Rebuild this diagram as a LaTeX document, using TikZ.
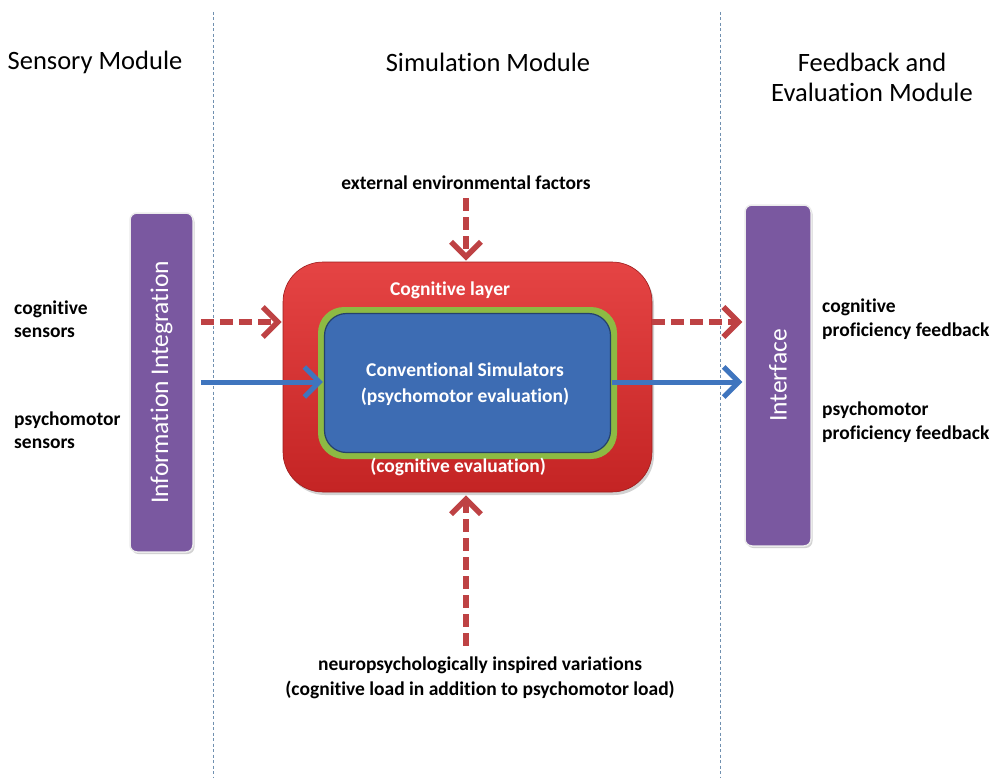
\documentclass[tikz,border=0pt]{standalone}
\usepackage{fontspec}
\setmainfont{Carlito}[Ligatures={CommonOff}]
\usetikzlibrary{arrows.meta,shadows,calc}
\definecolor{purp}{HTML}{7A58A0}
\definecolor{redarrow}{HTML}{BE4244}
\definecolor{bluearrow}{HTML}{3F75BE}
\definecolor{redtop}{HTML}{E54444}
\definecolor{redbot}{HTML}{C42424}
\definecolor{grn}{HTML}{8DBA43}
\definecolor{blu}{HTML}{3D6CB3}
\definecolor{divider}{HTML}{7090B0}
\tikzset{
  heading/.style={font=\fontsize{26.5}{30}\selectfont, align=center, inner sep=0pt},
  lbl/.style={font=\bfseries\fontsize{19.5}{23.5}\selectfont, align=left, inner sep=0pt},
  clbl/.style={font=\bfseries\fontsize{19.5}{25}\selectfont, align=center, inner sep=0pt},
  wlbl/.style={font=\bfseries\fontsize{19.5}{26}\selectfont, align=center, inner sep=0pt, text=white},
  pillar/.style={fill=purp, draw=white!85!gray, line width=1.5pt, rounded corners=7pt,
     drop shadow={shadow xshift=1.5pt, shadow yshift=-2pt, opacity=0.35}},
  pillartext/.style={text=white, font=\fontsize{25.5}{28}\selectfont, rotate=90},
  divline/.style={draw=divider, line width=0.8pt, dash pattern=on 3pt off 2.5pt},
  redarr/.style={draw=redarrow, line width=6pt, dash pattern=on 13pt off 6pt,
     -{Straight Barb[length=15pt,width=30pt,line width=5.5pt]}},
  bluarr/.style={draw=bluearrow, line width=5pt,
     -{Straight Barb[length=15pt,width=30pt,line width=5pt]}},
}
\begin{document}
\begin{tikzpicture}[x=1pt,y=-1pt]
\useasboundingbox[fill=white] (0,0) rectangle (995,778);

% dividers
\draw[divline] (213,12) -- (213,778);
\draw[divline] (720,12) -- (720,778);

% headings
\node[heading] (h1) at (95,62) {Sensory Module};
\node[heading] (h2) at (488,62) {Simulation Module};
\node[heading] (h3) at (872,77) {Feedback and\\Evaluation Module};

% pillars
\node[pillar, minimum width=63pt, minimum height=339pt] (info) at (161.5,382.5) {};
\node[pillartext] at (info.center) {Information Integration};
\node[pillar, minimum width=66pt, minimum height=341pt] (iface) at (778,375.5) {};
\node[pillartext] at (iface.center) {Interface};

% red cognitive layer
\node[top color=redtop, bottom color=redbot, draw=redbot!80!black, line width=0.6pt,
      rounded corners=40pt, minimum width=369pt, minimum height=230pt,
      drop shadow={shadow xshift=2pt, shadow yshift=-3pt, opacity=0.35}] (red) at (467.5,377) {};
\node[fill=grn, rounded corners=26pt, minimum width=299pt, minimum height=152pt] (grn) at (467.5,383) {};
\node[fill=blu, draw=blu!60!black, line width=1.2pt, rounded corners=22pt,
      minimum width=286pt, minimum height=139pt] (blu) at (467.5,383) {};

\node[wlbl] (cl) at (450,290) {Cognitive layer};
\node[wlbl] (cs) at (465,384) {Conventional Simulators\\(psychomotor evaluation)};
\node[wlbl] (ce) at (458,467) {(cognitive evaluation)};

% top / bottom labels
\node[clbl] (ext) at (466,183) {external environmental factors};
\node[clbl] (neuro) at (480,678) {neuropsychologically inspired variations\\(cognitive load in addition to psychomotor load)};

% side labels
\node[lbl, anchor=west] (cogs) at (14,319) {cognitive\\sensors};
\node[lbl, anchor=west] (psys) at (14,430) {psychomotor\\sensors};
\node[lbl, anchor=west] (cogf) at (822,319) {cognitive\\proficiency feedback};
\node[lbl, anchor=west] (psyf) at (822,422) {psychomotor\\proficiency feedback};

% rows
\coordinate (rowc) at (0,322);
\coordinate (rowp) at (0,382);

% arrows
\draw[redarr] ($(info.east|-rowc)+(7,0)$) -- ($(red.west|-rowc)+(-1,0)$);
\draw[bluarr] ($(info.east|-rowp)+(7,0)$) -- ($(blu.west|-rowp)+(-1,0)$);
\draw[redarr] (red.east|-rowc) -- ($(iface.west|-rowc)+(-2,0)$);
\draw[bluarr] ($(blu.east|-rowp)+(1,0)$) -- ($(iface.west|-rowp)+(-2,0)$);
\draw[redarr] ($(ext.south-|red.north)+(-1.5,8)$) -- ($(red.north)+(-1.5,-1)$);
\draw[redarr] ($(neuro.north-|red.south)+(-1.5,-11)$) -- ($(red.south)+(-1.5,3)$);
\end{tikzpicture}
\end{document}
